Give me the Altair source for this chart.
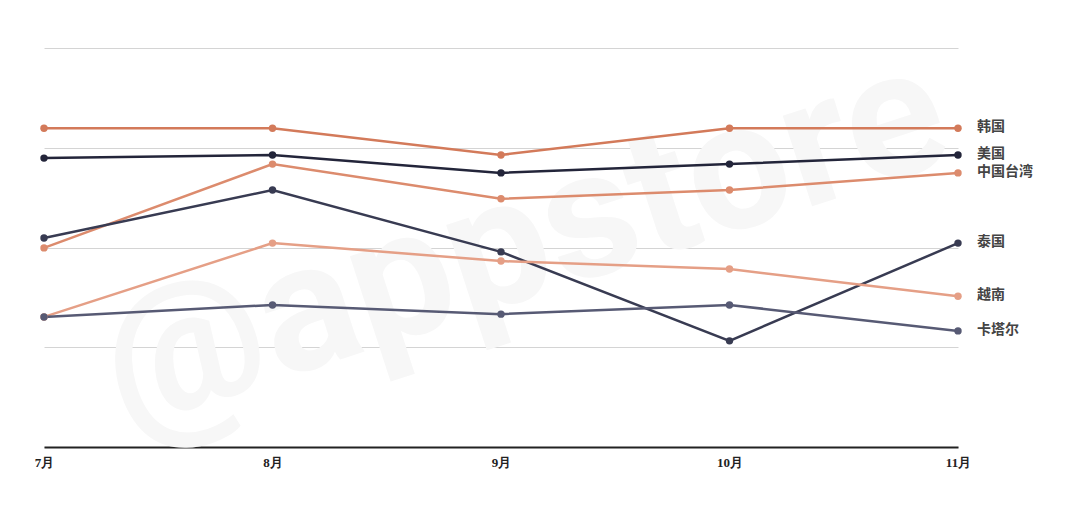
import altair as alt
import pandas as pd

months = ["7月", "8月", "9月", "10月", "11月"]
countries = ["韩国", "美国", "中国台湾", "泰国", "越南", "卡塔尔"]
korea = [79.9, 79.9, 73.2, 79.9, 79.9]
usa = [72.4, 73.2, 68.7, 70.9, 73.2]
taiwan = [49.9, 70.9, 62.2, 64.4, 68.7]
thailand = [52.4, 64.4, 48.9, 26.6, 51.1]
vietnam = [32.6, 51.1, 46.6, 44.6, 37.8]
qatar = [32.6, 35.6, 33.3, 35.6, 29.1]
colors = ["#d37a5a", "#23253a", "#dc8b6d", "#383b52", "#e59f86", "#575a74"]

series = [korea, usa, taiwan, thailand, vietnam, qatar]
rows = []
for c, vals in zip(countries, series):
    for m, v in zip(months, vals):
        rows.append({"month": m, "country": c, "value": v})
df = pd.DataFrame(rows)
last = df[df["month"] == months[-1]]

x = alt.X("month:N", sort=months, scale=alt.Scale(domain=months, padding=0),
          axis=alt.Axis(title=None, labelAngle=0, ticks=False, domainColor="#222222",
                        domainWidth=2, labelFont="Liberation Sans Narrow", labelFontSize=13,
                        labelFontWeight="bold", labelColor="#222222", labelPadding=9, grid=False))
y = alt.Y("value:Q", scale=alt.Scale(domain=[0, 100], nice=False),
          axis=alt.Axis(title=None, labels=False, ticks=False, domain=False,
                        values=[0, 25, 50, 75, 100], gridColor="#d4d4d4", gridWidth=1))
color = alt.Color("country:N", scale=alt.Scale(domain=countries, range=colors), legend=None)

watermark = alt.Chart(pd.DataFrame({"t": ["@appstore"]})).mark_text(
    font="Roboto", fontSize=180, fontWeight="bold", color="#f7f7f7", angle=342,
    align="center", baseline="middle"
).encode(text="t:N", x=alt.value(480), y=alt.value(195))

base = alt.Chart(df)
lines = base.mark_line(strokeWidth=2.5).encode(x=x, y=y, color=color, detail="country:N")
points = base.mark_circle(size=55, opacity=1).encode(x=x, y=y, color=color)
labels = alt.Chart(last).mark_text(
    align="left", baseline="middle", dx=19, dy=-1, fontSize=14, fontWeight="bold",
    font="Noto Sans CJK SC", color="#444444"
).encode(x=x, y=y, text="country:N")

chart = alt.layer(watermark, lines, points, labels).properties(
    width=914, height=399,
    background="white",
    autosize=alt.AutoSizeParams(type="none"),
    padding={"left": 36, "top": 40, "right": 114, "bottom": 58},
).configure_view(strokeWidth=0, stroke="transparent")

chart.save("out.html", embed_options={"renderer": "svg", "actions": False})
